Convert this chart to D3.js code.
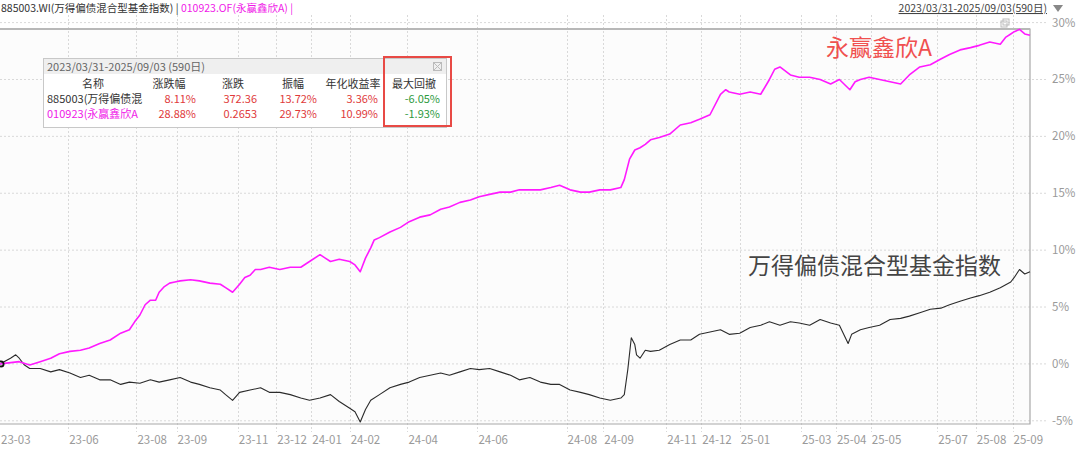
<!DOCTYPE html>
<html><head><meta charset="utf-8">
<script src="https://cdn.jsdelivr.net/npm/d3@7/dist/d3.min.js"></script>
<style>
html,body{margin:0;padding:0;background:#fff;}
svg{display:block;font-family:"Noto Sans CJK SC","Noto Sans",sans-serif;}
</style></head>
<body><svg id="c" width="1080" height="450"></svg>
<script>
// ---- data (trading-day index from 2023/03/31, cumulative return %) ----
const fundName = "010923.OF(永赢鑫欣A)";
const indexName = "885003.WI(万得偏债混合型基金指数)";
const fundDays = [0,11,17,23,29,34,40,46,51,57,63,69,74,77,80,83,86,89,91,94,97,100,103,109,114,120,126,129,133,137,140,143,146,149,154,160,166,172,177,183,186,189,194,200,203,206,207,209,212,214,217,223,229,234,240,246,252,257,263,269,274,280,286,292,297,303,309,315,320,326,332,337,343,349,355,357,360,363,366,369,372,377,383,389,395,400,406,412,415,417,423,429,435,440,443,446,452,457,463,469,475,480,486,489,492,497,503,509,515,520,526,532,538,543,549,555,560,566,572,575,578,580,583,586,589];
const fundValues = [0,0.2,-0.1,0.2,0.5,0.9,1.1,1.2,1.4,1.8,2.1,2.7,3.0,3.7,4.3,5.2,5.6,5.6,6.3,6.8,7.1,7.2,7.3,7.4,7.3,7.1,7.0,6.7,6.3,7.0,7.6,7.8,8.3,8.3,8.5,8.3,8.5,8.5,9.0,9.6,9.3,9.0,9.2,9.0,8.7,8.1,8.5,9.3,10.2,10.9,11.1,11.6,12.0,12.5,12.9,13.1,13.6,13.8,14.2,14.4,14.7,14.9,15.1,15.1,15.3,15.3,15.3,15.5,15.7,15.3,15.1,15.1,15.3,15.3,15.5,16.2,18.0,18.8,19.0,19.3,19.7,19.9,20.2,21.0,21.2,21.5,21.9,23.7,24.1,23.9,23.7,23.9,23.7,25.0,25.9,26.1,25.4,25.2,25.2,25.0,24.6,25.0,24.1,24.8,25.0,25.2,25.0,24.8,24.6,25.4,26.1,26.3,26.8,27.2,27.6,27.8,28.0,28.3,28.1,28.7,29.0,29.2,29.4,29.0,28.88];
const indexDays = [0,6,9,11,14,17,23,29,34,40,46,51,57,63,69,74,80,86,91,97,103,109,114,120,126,129,133,137,143,149,154,160,166,172,177,183,189,194,200,203,206,209,212,217,223,229,234,240,246,252,257,263,269,274,280,286,292,297,303,309,315,320,326,332,337,343,349,355,357,359,361,363,364,366,369,372,377,383,389,395,400,406,412,417,423,429,435,440,446,452,457,463,469,475,480,485,487,492,497,503,509,515,520,526,532,538,543,549,555,560,566,572,578,580,583,586,589];
const indexValues = [0,0.5,0.8,0.5,-0.1,-0.4,-0.4,-0.7,-0.5,-0.8,-1.2,-1.0,-1.4,-1.4,-1.8,-1.6,-1.7,-1.4,-1.6,-1.4,-1.2,-1.6,-1.8,-2.1,-2.3,-2.7,-3.2,-2.5,-2.3,-2.1,-2.5,-2.5,-2.7,-3.0,-3.2,-3.0,-2.7,-3.3,-3.9,-4.2,-5.1,-4.0,-3.2,-2.7,-2.1,-1.8,-1.6,-1.2,-1.0,-0.8,-1.0,-0.7,-0.4,-0.5,-0.4,-0.7,-1.0,-1.4,-1.2,-1.6,-1.8,-1.8,-2.3,-2.5,-2.7,-3.0,-3.2,-3.0,-2.7,-0.5,2.3,1.7,0.8,0.5,1.2,1.1,1.2,1.7,2.1,2.1,2.6,2.8,3.0,2.6,2.7,3.2,3.4,3.7,3.4,3.7,3.6,3.4,3.9,3.6,3.4,1.8,2.6,3.0,3.2,3.4,3.9,4.0,4.2,4.5,4.8,4.9,5.2,5.5,5.8,6.0,6.3,6.7,7.2,7.6,8.3,7.9,8.11];
const xTickLabels = ["23-03","23-06","23-08","23-09","23-11","23-12","24-01","24-02","24-04","24-06","24-08","24-09","24-11","24-12","25-01","25-03","25-04","25-05","25-07","25-08","25-09"];
const xTickDays = [0,39,78,101,136,158,178,200,233,273,324,345,381,401,423,458,478,498,536,558,579];
const yTicks = [-5,0,5,10,15,20,25,30];
const periodText = "2023/03/31-2025/09/03(590日)";
const tableTitle = "2023/03/31-2025/09/03 (590日)";
const tableHeaders = ["名称","涨跌幅","涨跌","振幅","年化收益率","最大回撤"];
const tableRow1 = ["885003(万得偏债混","8.11%","372.36","13.72%","3.36%","-6.05%"];
const tableRow2 = ["010923(永赢鑫欣A","28.88%","0.2653","29.73%","10.99%","-1.93%"];
const totalDays = 589;

// ---- drawing ----
const svg = d3.select("#c");
const L = 0, R = 1030, T = 29, B = 424;
const x = d3.scaleLinear().domain([0, totalDays]).range([L, R]);
const y = d3.scaleLinear().domain([-5, 30]).range([420.8, 22.6]);

svg.append("rect").attr("x", L).attr("y", T).attr("width", R - L).attr("height", B - T)
  .attr("fill", "#fcfcfc");

// grid
const grid = svg.append("g");
grid.selectAll("line.h").data(yTicks).join("line")
  .attr("x1", 0).attr("x2", 1047).attr("y1", d => y(d)).attr("y2", d => y(d))
  .attr("stroke", "#d9d9d9").attr("stroke-dasharray", "2,2").attr("stroke-width", 1);
grid.selectAll("line.v").data(xTickDays.slice(1)).join("line")
  .attr("x1", d => Math.round(x(d)) + 0.5).attr("x2", d => Math.round(x(d)) + 0.5)
  .attr("y1", 15).attr("y2", 432)
  .attr("stroke", "#d9d9d9").attr("stroke-dasharray", "2,2").attr("stroke-width", 1);

// frame
svg.append("path").attr("d", `M${L},${T}H${R}V${B}H${L}`)
  .attr("fill", "none").attr("stroke", "#a8a8a8").attr("stroke-width", 1.2);
svg.append("line").attr("x1", L).attr("x2", R).attr("y1", T).attr("y2", T)
  .attr("stroke", "#b8b8b8").attr("stroke-width", 2);

// y labels
svg.append("g").selectAll("text").data(yTicks).join("text")
  .attr("x", 1052).attr("y", d => y(d) + 4).attr("font-size", 11.5).attr("fill", "#9a9a9a")
  .text(d => d + "%");
// x labels
svg.append("g").selectAll("text").data(xTickDays).join("text")
  .attr("x", d => x(d) + 1).attr("y", 444).attr("font-size", 11.5).attr("fill", "#9a9a9a")
  .text((d, i) => xTickLabels[i]);

// lines
const lineGen = d3.line().x(d => x(d[0])).y(d => y(d[1]));
const indexData = indexDays.map((d, i) => [d, indexValues[i]]);
const fundData = fundDays.map((d, i) => [d, fundValues[i]]);
svg.append("path").attr("d", lineGen(indexData)).attr("fill", "none")
  .attr("stroke", "#2b2b2b").attr("stroke-width", 1.1).attr("stroke-linejoin", "round");
svg.append("path").attr("d", lineGen(fundData)).attr("fill", "none")
  .attr("stroke", "#ff1aff").attr("stroke-width", 1.6).attr("stroke-linejoin", "round");

// start marker
svg.append("circle").attr("cx", 1).attr("cy", y(0)).attr("r", 2.6)
  .attr("fill", "none").attr("stroke", "#111").attr("stroke-width", 1.8);

// header
const hdr = svg.append("text").attr("x", 1).attr("y", 12).attr("font-size", 10.5);
hdr.append("tspan").attr("fill", "#333").text(indexName + " | ");
hdr.append("tspan").attr("fill", "#f018e8").text(fundName + " |");
svg.append("text").attr("x", 1047).attr("y", 12).attr("text-anchor", "end")
  .attr("font-size", 10.5).attr("fill", "#444").attr("text-decoration", "underline").text(periodText);
svg.append("path").attr("d", "M1053,5 L1063,5 L1058,12 Z").attr("fill", "#888");

// small icons top right of plot
svg.append("rect").attr("x", 1001).attr("y", 21).attr("width", 6).attr("height", 6).attr("fill", "none").attr("stroke", "#bbb");
svg.append("rect").attr("x", 1003).attr("y", 19).attr("width", 6).attr("height", 6).attr("fill", "none").attr("stroke", "#bbb");

// annotations
svg.append("text").attr("x", 826).attr("y", 56).attr("font-size", 23).attr("fill", "#f0504f").text("永赢鑫欣A");
svg.append("text").attr("x", 748).attr("y", 274).attr("font-size", 23).attr("fill", "#444").text("万得偏债混合型基金指数");

// stats table
const tb = svg.append("g");
tb.append("rect").attr("x", 43.5).attr("y", 58.5).attr("width", 403).attr("height", 69)
  .attr("fill", "#fff").attr("stroke", "#c8c8c8");
tb.append("rect").attr("x", 44).attr("y", 59).attr("width", 402).attr("height", 15).attr("fill", "#efefef");
tb.append("text").attr("x", 47).attr("y", 70.5).attr("font-size", 11).attr("fill", "#666").text(tableTitle);
tb.append("rect").attr("x", 433.5).attr("y", 62.5).attr("width", 8).attr("height", 8).attr("fill", "none").attr("stroke", "#bbb");
tb.append("path").attr("d", "M434,63 L441,70 M441,63 L434,70").attr("stroke", "#bbb");
const headX = [93, 169, 233, 293, 353, 414];
tb.selectAll("text.h").data(tableHeaders).join("text")
  .attr("x", (d, i) => headX[i]).attr("y", 88).attr("text-anchor", "middle")
  .attr("font-size", 11).attr("fill", "#333").text(d => d);
const valX = [196, 257, 317, 378, 440];
function row(vals, yy, nameColor) {
  tb.append("text").attr("x", 47).attr("y", yy).attr("font-size", 11).attr("fill", nameColor).text(vals[0]);
  vals.slice(1).forEach((v, i) => {
    tb.append("text").attr("x", valX[i]).attr("y", yy).attr("text-anchor", "end")
      .attr("font-size", 11).attr("fill", i === 4 ? "#2e9a3e" : "#e03a3a").text(v);
  });
}
row(tableRow1, 103, "#333");
row(tableRow2, 118, "#f018e8");
// red highlight
svg.append("rect").attr("x", 384).attr("y", 57).attr("width", 67).attr("height", 69)
  .attr("fill", "none").attr("stroke", "#e84a45").attr("stroke-width", 2);
</script></body></html>
